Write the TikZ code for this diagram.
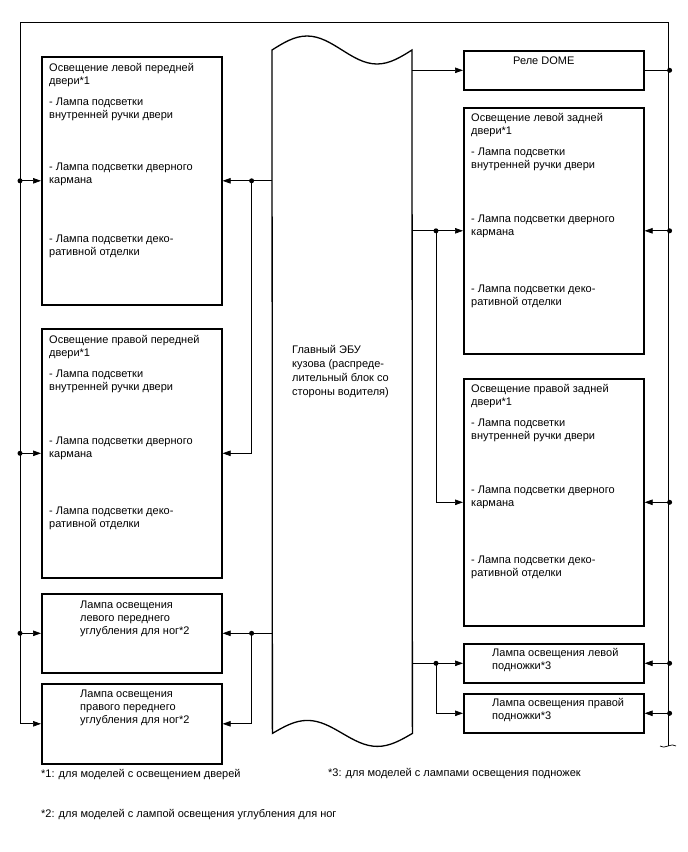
\documentclass[tikz,border=0pt]{standalone}
\usepackage{fontspec}
\setmainfont{Liberation Sans}
\usepackage{tikz}
\usetikzlibrary{arrows.meta,calc}

\begin{document}
\begin{tikzpicture}[x=1pt,y=-1pt,>={Triangle[length=8pt,width=5.5pt]},
  box/.style={draw,line width=1.6pt,fill=white,anchor=north west,inner sep=0pt,minimum width=180pt},
  txt/.style={anchor=north west,align=left,inner sep=0pt,font=\fontsize{11}{13}\selectfont},
  wire/.style={line width=0.7pt}]
  \useasboundingbox (0,0) rectangle (688,852);

  % central body ECU (tape shape)
  \node[minimum width=140pt,minimum height=683pt,anchor=north west,inner sep=0pt] (ecu) at (272,50) {};
  \draw[line width=1.3pt] (ecu.north west) sin ++(35,-14) cos ++(35,14) sin ++(35,14) cos ++(35,-14)
    -- (ecu.south east) sin ++(-35,13) cos ++(-35,-13) sin ++(-35,-13) cos ++(-35,13) -- cycle;
  \node[txt,font=\fontsize{11}{14}\selectfont] (ecutxt) at ([shift={(20,295)}]ecu.north west)
    {Главный ЭБУ\\кузова (распреде-\\лительный блок со\\стороны водителя)};

  % left column
  \node[box,minimum height=248pt] (lfd) at (41,56) {};
  \node[box,minimum height=249pt] (rfd) at (41,328) {};
  \node[box,minimum height=79pt] (lfw) at (41,593) {};
  \node[box,minimum height=80pt] (rfw) at (41,683) {};
  % right column
  \node[box,minimum height=39pt] (dome) at (463,50) {};
  \node[box,minimum height=246pt] (lrd) at (463,107) {};
  \node[box,minimum height=247pt] (rrd) at (463,378) {};
  \node[box,minimum height=39pt] (lst) at (463,643) {};
  \node[box,minimum height=39pt] (rst) at (463,693) {};

  % box texts
  \node[txt] (lfdtxt) at ([shift={(8,7)}]lfd.north west) {Освещение левой передней\\двери*1\\[8pt]- Лампа подсветки\\внутренней ручки двери\\[39pt]- Лампа подсветки дверного\\кармана\\[46pt]- Лампа подсветки деко-\\ративной отделки};
  \node[txt] (rfdtxt) at ([shift={(8,7)}]rfd.north west) {Освещение правой передней\\двери*1\\[8pt]- Лампа подсветки\\внутренней ручки двери\\[41pt]- Лампа подсветки дверного\\кармана\\[44pt]- Лампа подсветки деко-\\ративной отделки};
  \node[txt] (lrdtxt) at ([shift={(8,6)}]lrd.north west) {Освещение левой задней\\двери*1\\[8pt]- Лампа подсветки\\внутренней ручки двери\\[41pt]- Лампа подсветки дверного\\кармана\\[44pt]- Лампа подсветки деко-\\ративной отделки};
  \node[txt] (rrdtxt) at ([shift={(8,6)}]rrd.north west) {Освещение правой задней\\двери*1\\[8pt]- Лампа подсветки\\внутренней ручки двери\\[41pt]- Лампа подсветки дверного\\кармана\\[44pt]- Лампа подсветки деко-\\ративной отделки};
  \node[txt] (lfwtxt) at ([shift={(39,8)}]lfw.north west) {Лампа освещения\\левого переднего\\углубления для ног*2};
  \node[txt] (rfwtxt) at ([shift={(39,7)}]rfw.north west) {Лампа освещения\\правого переднего\\углубления для ног*2};
  \node[txt] (dometxt) at ([shift={(50,7)}]dome.north west) {Реле DOME};
  \node[txt] (lsttxt) at ([shift={(29,5)}]lst.north west) {Лампа освещения левой\\подножки*3};
  \node[txt] (rsttxt) at ([shift={(29,5)}]rst.north west) {Лампа освещения правой\\подножки*3};

  % footnotes
  \node[txt] (fn1) at ([shift={(0,5)}]rfw.south west) {*1: для моделей с освещением дверей};
  \node[txt] (fn3) at (328,768) {*3: для моделей с лампами освещения подножек};
  \node[txt] (fn2) at (41,809) {*2: для моделей с лампой освещения углубления для ног};

  % bus corners and junctions
  \coordinate (tl) at (20,22);
  \coordinate (tr) at (668,22);
  \coordinate (br) at (668,746);
  \coordinate (bl) at ([xshift=-21pt]rfw.west);
  \coordinate (l1) at ([xshift=-21pt]lfd.west);
  \coordinate (l2) at ([xshift=-21pt]rfd.west);
  \coordinate (l3) at ([xshift=-21pt]lfw.west);
  \coordinate (r0) at ([xshift=25pt]dome.east);
  \coordinate (r1) at ([xshift=25pt]lrd.east);
  \coordinate (r2) at ([xshift=25pt]rrd.east);
  \coordinate (r3) at ([xshift=25pt]lst.east);
  \coordinate (r4) at ([xshift=25pt]rst.east);
  \coordinate (ja) at ([xshift=29pt]lfd.east);
  \coordinate (jb) at ([xshift=29pt]lfw.east);
  \coordinate (jc) at ([xshift=-27pt]lrd.west);
  \coordinate (jd) at ([xshift=-27pt]lst.west);

  % outer bus
  \draw[wire] (br) -- (tr) -- (tl) -- (bl);
  \draw[wire,->] (bl) -- (rfw.west);
  \draw[wire] ([xshift=-8pt]br) .. controls +(4,4) and +(-4,-4) .. ([xshift=8pt]br);
  \foreach \j/\b in {l1/lfd,l2/rfd,l3/lfw} {
    \draw[wire,->] (\j) -- (\b.west);
    \fill (\j) circle (2.5);
  }
  \draw[wire] (r0) -- (dome.east);
  \fill (r0) circle (2.5);
  \foreach \j/\b in {r1/lrd,r2/rrd,r3/lst,r4/rst} {
    \draw[wire,->] (\j) -- (\b.east);
    \fill (\j) circle (2.5);
  }

  % ECU outputs, left
  \draw[wire,->] (ecu.west |- ja) -- (lfd.east);
  \draw[wire,->] (ja) |- (rfd.east);
  \draw[wire,->] (ecu.west |- jb) -- (lfw.east);
  \draw[wire,->] (jb) |- (rfw.east);
  \fill (ja) circle (2.5) (jb) circle (2.5);
  % ECU outputs, right
  \draw[wire,->] (ecu.east |- dome.west) -- (dome.west);
  \draw[wire,->] (ecu.east |- jc) -- (lrd.west);
  \draw[wire,->] (jc) |- (rrd.west);
  \draw[wire,->] (ecu.east |- jd) -- (lst.west);
  \draw[wire,->] (jd) |- (rst.west);
  \fill (jc) circle (2.5) (jd) circle (2.5);
\end{tikzpicture}
\end{document}
